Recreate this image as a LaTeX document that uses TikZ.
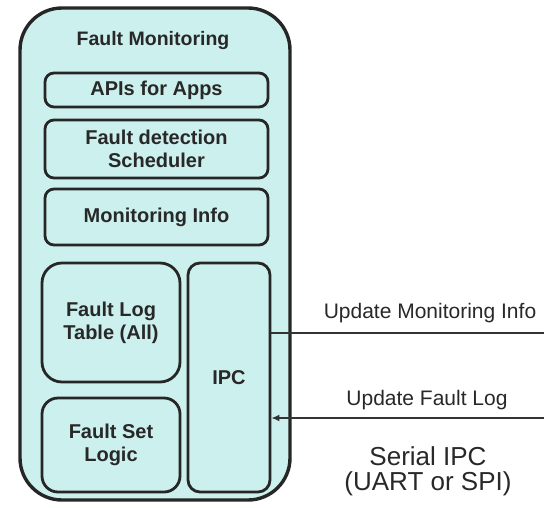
\documentclass[tikz,border=0pt]{standalone}
\usepackage{fontspec}
\setmainfont{Liberation Sans}
\usetikzlibrary{arrows.meta}
\definecolor{fmfill}{RGB}{204,240,238}
\definecolor{fmtext}{RGB}{40,40,40}
\tikzset{
  block/.style={draw=black!85, line width=2.8pt, fill=fmfill, rounded corners=9pt,
    font=\bfseries\fontsize{20}{23}\selectfont, text=fmtext, align=center, inner sep=0pt},
  msg/.style={font=\fontsize{21}{24}\selectfont, text=fmtext}
}
\begin{document}
\begin{tikzpicture}[x=1pt,y=-1pt]
\useasboundingbox (0,0) rectangle (544,507);

% Outer module
\node[block, rounded corners=42pt, line width=3.4pt, minimum width=270pt, minimum height=492pt] (fm) at (155,254) {};
\node[font=\bfseries\fontsize{19.5}{23}\selectfont, text=fmtext] (title) at (153,40) {Fault Monitoring};

% Blocks
\node[block, minimum width=223pt, minimum height=34pt] (api) at (156.5,90) {APIs for Apps};
\node[block, minimum width=223pt, minimum height=58pt] (sched) at (156.5,149) {Fault detection\\Scheduler};
\node[block, minimum width=223pt, minimum height=56pt] (info) at (156.5,217) {Monitoring Info};
\node[block, rounded corners=20pt, minimum width=138pt, minimum height=119pt] (log) at (111,322.5) {Fault Log\\Table (All)};
\node[block, rounded corners=16pt, minimum width=138pt, minimum height=94pt] (set) at (111,445) {Fault Set\\Logic};
\node[block, rounded corners=12pt, minimum width=82pt, minimum height=229pt] (ipc) at (229,377.5) {IPC};

% Serial link
\coordinate (mon) at (544,333);
\coordinate (flt) at (544,418);
\draw[line width=1.4pt, black!80] (ipc.east |- mon) -- (mon);
\draw[line width=1.4pt, black!80, -{Latex[length=8pt,width=7pt]}] (flt) -- (ipc.east |- flt);

% Labels
\node[msg] (monlbl) at (430,313) {Update Monitoring Info};
\node[msg] (fltlbl) at (427,400) {Update Fault Log};
\node[msg, font=\fontsize{26}{25}\selectfont, align=center] (serial) at (428,471) {Serial IPC\\(UART or SPI)};
\end{tikzpicture}
\end{document}
